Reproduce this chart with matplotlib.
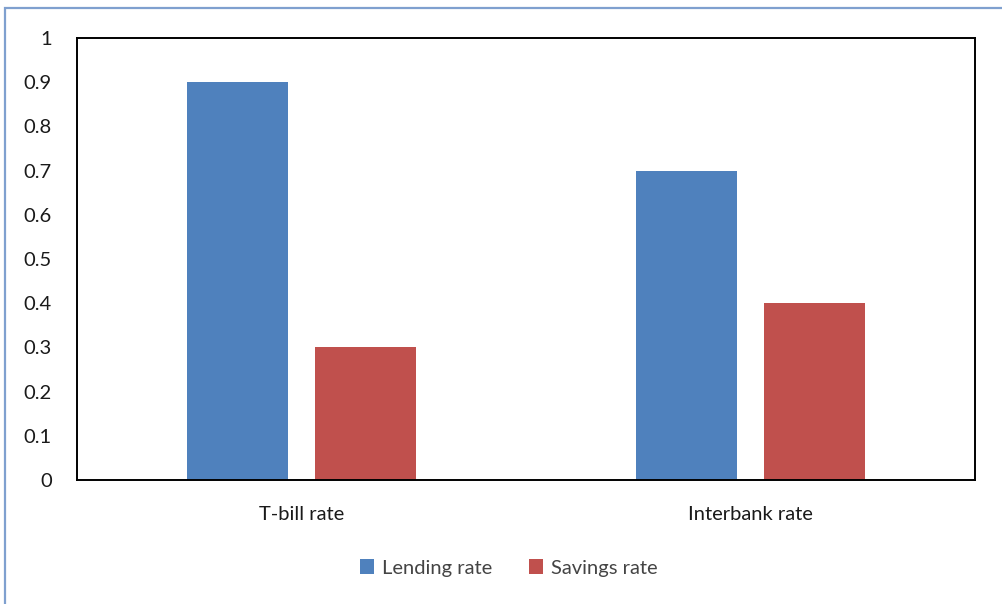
import matplotlib.pyplot as plt
import matplotlib.patches as mpatches
import numpy as np

categories = ['T-bill rate', 'Interbank rate']
lending_rate = [0.9, 0.7]
savings_rate = [0.3, 0.4]
series_names = ['Lending rate', 'Savings rate']
y_ticks = [0, 0.1, 0.2, 0.3, 0.4, 0.5, 0.6, 0.7, 0.8, 0.9, 1]
y_tick_labels = ['0', '0.1', '0.2', '0.3', '0.4', '0.5', '0.6', '0.7', '0.8', '0.9', '1']

blue = '#4F81BD'
red = '#C0504D'

plt.rcParams['font.family'] = ['Lato', 'DejaVu Sans']

fig = plt.figure(figsize=(10.03, 6.04), dpi=100)
# outer chart-area border (blue, open at bottom/right)
fig.patches.append(mpatches.Rectangle((5 / 1003, -0.1), 1.2, 1 - 8 / 604 + 0.1,
                                      transform=fig.transFigure, fill=False,
                                      edgecolor='#7FA0CF', linewidth=1.6, zorder=0))

ax = fig.add_axes([77 / 1003, 1 - 480 / 604, 898 / 1003, 442 / 604])
x = np.arange(len(categories))
w = 0.223
off = 0.1425
ax.bar(x - off, lending_rate, w, color=blue, label=series_names[0])
ax.bar(x + off, savings_rate, w, color=red, label=series_names[1])

ax.set_xlim(-0.5, 1.5)
ax.set_ylim(0, 1)
ax.set_yticks(y_ticks)
ax.set_yticklabels(y_tick_labels)
ax.set_xticks(x)
ax.set_xticklabels(categories)
ax.tick_params(axis='both', length=0, labelsize=14.5, colors='#1a1a1a')
ax.tick_params(axis='y', pad=18)
ax.tick_params(axis='x', pad=19)
for s in ax.spines.values():
    s.set_color('black')
    s.set_linewidth(1.4)

ax.legend(loc='center', bbox_to_anchor=(509 / 1003, 1 - 568 / 604),
          bbox_transform=fig.transFigure, ncol=2, frameon=False,
          fontsize=14.5, handlelength=0.7, handleheight=0.7,
          handletextpad=0.4, columnspacing=1.8, labelcolor='#444444')

fig.savefig('out.png', dpi=100)
